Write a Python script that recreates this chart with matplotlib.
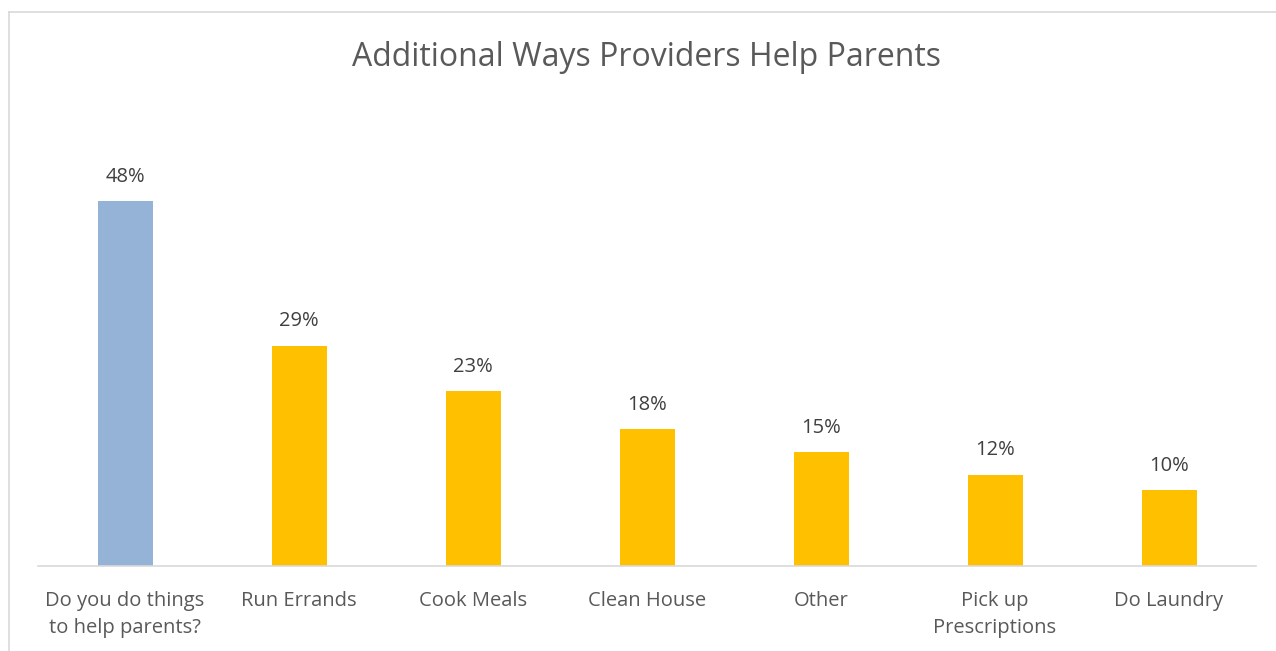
import matplotlib.pyplot as plt
from matplotlib.lines import Line2D

categories = ["Do you do things\nto help parents?", "Run Errands", "Cook Meals",
              "Clean House", "Other", "Pick up\nPrescriptions", "Do Laundry"]
values = [48, 29, 23, 18, 15, 12, 10]
colors = ["#95B3D7"] + ["#FFC000"] * 6

plt.rcParams['font.family'] = ['Open Sans', 'DejaVu Sans']
text_color = "#595959"

W, H = 1276, 651
fig = plt.figure(figsize=(W / 100, H / 100), dpi=100)
ax = fig.add_axes([38 / W, (H - 566) / H, (1256 - 38) / W, (566 - 110) / H])

x = range(len(categories))
bars = ax.bar(x, values, width=55 / 174, color=colors, zorder=2)
for xi, v in zip(x, values):
    ax.text(xi, v + 1.9, f"{v}%", ha="center", va="bottom", fontsize=14.5, color="#404040")

ax.set_xlim(-0.5, len(categories) - 0.5)
ax.set_ylim(0, 60)
ax.set_yticks([])
ax.set_xticks(list(x))
ax.set_xticklabels(categories, fontsize=14.5, color=text_color, linespacing=1.5)
ax.tick_params(axis="x", length=0, pad=18)
for s in ["top", "left", "right"]:
    ax.spines[s].set_visible(False)
ax.spines["bottom"].set_color("#D9D9D9")
ax.spines["bottom"].set_linewidth(1.2)

fig.text(647 / W, 1 - 57 / H, "Additional Ways Providers Help Parents",
         ha="center", va="center", fontsize=23, color=text_color)

# chart border (partially cropped in reference)
fig.add_artist(Line2D([9 / W, 1], [1 - 12 / H, 1 - 12 / H], color="#D9D9D9", lw=1.2))
fig.add_artist(Line2D([9 / W, 9 / W], [0, 1 - 12 / H], color="#D9D9D9", lw=1.2))

fig.savefig("out.png", dpi=100)
